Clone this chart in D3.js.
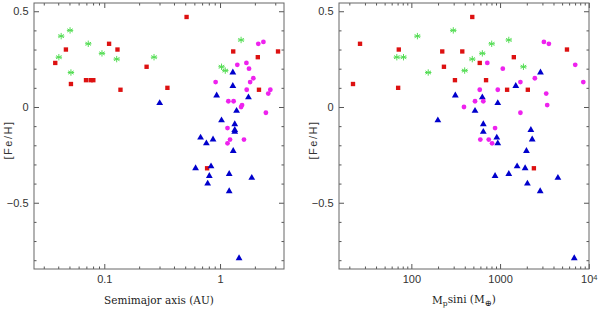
<!DOCTYPE html>
<html>
<head>
<meta charset="utf-8">
<script src="https://cdn.jsdelivr.net/npm/d3@7"></script>
<style>
    body { margin: 0; background: #fff; }
    .tick text { font-family: "Liberation Sans", Arial, sans-serif; font-size: 11px; fill: #333; }
    .tick line { stroke: #555; }
    .frame { fill: none; stroke: #666; stroke-width: 1; }
    .axis-title { font-family: "DejaVu Serif", serif; font-size: 10.5px; fill: #222; }
    .feh-title { font-family: "Liberation Sans", Arial, sans-serif; font-size: 11px; fill: #333; letter-spacing: 1.5px; }
</style>
</head>
<body>
<div id="chart"></div>
<script>
// left panel: [semimajor axis (AU), [Fe/H]]
const semiStars = [[0.0424, 0.37], [0.0506, 0.40], [0.0405, 0.26], [0.0515, 0.18], [0.0727, 0.33], [0.0955, 0.28],
    [0.128, 0.25], [0.269, 0.26], [1.52, 0.35], [1.03, 0.21], [1.11, 0.19]];
const semiSquares = [[0.0377, 0.23], [0.0466, 0.30], [0.0515, 0.12], [0.0695, 0.14], [0.0762, 0.14], [0.0804, 0.14],
    [0.110, 0.33], [0.130, 0.30], [0.138, 0.09], [0.232, 0.21], [0.351, 0.10], [0.514, 0.47], [1.30, 0.29],
    [2.12, 0.26], [2.17, 0.09], [3.17, 0.29], [0.773, -0.32]];
const semiTriangles = [[0.301, 0.02], [1.29, 0.18], [1.29, 0.11], [0.935, 0.06], [1.76, 0.05], [1.39, -0.02],
    [1.03, -0.07], [1.34, -0.09], [1.34, -0.12], [1.34, -0.13], [0.679, -0.16], [0.762, -0.19], [0.87, -0.17],
    [1.30, -0.23], [0.615, -0.32], [0.836, -0.31], [0.808, -0.36], [1.20, -0.35], [1.88, -0.37], [0.782, -0.40],
    [1.20, -0.44], [1.46, -0.79]];
const semiCircles = [[2.14, 0.33], [2.37, 0.34], [1.41, 0.22], [1.69, 0.23], [1.78, 0.20], [0.916, 0.13],
    [1.94, 0.15], [1.82, 0.13], [1.70, 0.09], [2.72, 0.09], [2.61, 0.07], [1.18, 0.03], [1.31, 0.03], [1.55, 0.01],
    [1.52, 0.00], [2.49, -0.03], [1.16, -0.11], [1.22, -0.17], [1.16, -0.19], [1.61, -0.17]];

// right panel: [Mp sini (Earth masses), [Fe/H]]
const massStars = [[117, 0.37], [297, 0.40], [68.6, 0.26], [81.6, 0.26], [155, 0.18], [805, 0.33], [1254, 0.35],
    [486, 0.25], [631, 0.28], [399, 0.19], [1834, 0.21]];
const massSquares = [[26.4, 0.33], [22.0, 0.12], [72.2, 0.30], [71.0, 0.10], [223, 0.29], [233, 0.21], [310, 0.14],
    [486, 0.47], [375, 0.29], [590, 0.23], [695, 0.14], [1429, 0.26], [1200, 0.09], [2055, 0.09], [5675, 0.30],
    [2405, -0.32]];
const massTriangles = [[199, -0.07], [313, 0.06], [631, 0.05], [522, -0.02], [942, 0.02], [1503, 0.11],
    [2853, 0.18], [647, -0.09], [647, -0.13], [918, -0.16], [942, -0.19], [2223, -0.12], [2301, -0.17],
    [1982, -0.23], [1556, -0.31], [1915, -0.32], [878, -0.36], [1254, -0.35], [2032, -0.40], [2832, -0.44],
    [4487, -0.37], [6855, -0.79]];
const massCircles = [[3118, 0.34], [3548, 0.33], [7031, 0.22], [8664, 0.13], [1073, 0.20], [718, 0.23],
    [1695, 0.13], [2466, 0.15], [590, 0.09], [942, 0.09], [3311, 0.07], [3397, 0.01], [522, 0.03], [647, 0.03],
    [392, 0.00], [1695, -0.03], [878, -0.11], [599, -0.17], [745, -0.17], [812, -0.19]];

const fehDomain = [-0.846, 0.543];
const fehMajor = [-0.5, 0, 0.5];
const fehMinor = [-0.8, -0.7, -0.6, -0.4, -0.3, -0.2, -0.1, 0.1, 0.2, 0.3, 0.4];

const semiDomain = [0.0247, 3.57];
const massDomain = [15.3, 10050];


class ScatterPanel {
    constructor(svg, left, xDomain, xTitle) {
        this.svg = svg;
        this.left = left;
        this.top = 3;
        this.width = 250;
        this.height = 266;
        this.xDomain = xDomain;
        this.xTitle = xTitle;

        this.g = null;
        this.x = null;
        this.y = null;
    }

    init() {
        this.g = this.svg.append("g")
            .attr("transform", "translate(" + this.left + "," + this.top + ")");

        this.x = d3.scaleLog()
            .domain(this.xDomain)
            .range([0, this.width]);

        this.y = d3.scaleLinear()
            .domain(fehDomain)
            .range([this.height, 0]);

        let all = this.x.ticks();
        let major = all.filter(v => Math.abs(Math.log10(v) - Math.round(Math.log10(v))) < 1e-6);
        let minor = all.filter(v => major.indexOf(v) < 0);

        // minor + major ticks, all pointing inward
        this.addAxis(d3.axisBottom(this.x).tickValues(minor).tickSize(-2.5).tickFormat(""), this.height);
        this.addAxis(d3.axisTop(this.x).tickValues(minor).tickSize(-2.5).tickFormat(""), 0);
        this.addAxis(d3.axisTop(this.x).tickValues(major).tickSize(-5).tickFormat(""), 0);
        let xa = this.addAxis(d3.axisBottom(this.x).tickValues(major).tickSize(-5).tickPadding(6.5)
            .tickFormat(d => d >= 10000 ? "10" : d3.format("~g")(d)), this.height);
        xa.selectAll(".tick text").filter(d => d >= 10000)
            .append("tspan").attr("dy", "-0.45em").attr("font-size", "7.5px").text("4");

        this.addAxisY(d3.axisLeft(this.y).tickValues(fehMinor).tickSize(-2.5).tickFormat(""), 0);
        this.addAxisY(d3.axisRight(this.y).tickValues(fehMinor).tickSize(-2.5).tickFormat(""), this.width);
        this.addAxisY(d3.axisRight(this.y).tickValues(fehMajor).tickSize(-5).tickFormat(""), this.width);
        this.addAxisY(d3.axisLeft(this.y).tickValues(fehMajor).tickSize(-5).tickPadding(5.5)
            .tickFormat(d => d3.format("~g")(d).replace("-", "\u2212")), 0);

        this.g.append("rect")
            .attr("class", "frame")
            .attr("width", this.width)
            .attr("height", this.height);

        // axis titles
        let xt = this.g.append("text")
            .attr("class", "axis-title")
            .attr("x", this.width / 2)
            .attr("y", this.height + 35)
            .style("text-anchor", "middle");
        this.xTitle(xt);

        this.g.append("text")
            .attr("class", "feh-title")
            .attr("transform", "rotate(-90)")
            .attr("x", -137)
            .attr("y", -22)
            .style("text-anchor", "middle")
            .text("[Fe/H]");
    }

    addAxis(axis, y) {
        let a = this.g.append("g").attr("transform", "translate(0," + y + ")").call(axis);
        a.select(".domain").remove();
        return a;
    }

    addAxisY(axis, x) {
        let a = this.g.append("g").attr("transform", "translate(" + x + ",0)").call(axis);
        a.select(".domain").remove();
        return a;
    }

    drawStars(data) {
        let r = 3.2;
        let arms = [0, 60, 120].map(deg => {
            let t = deg * Math.PI / 180;
            return "M" + (-r * Math.sin(t)) + "," + (-r * Math.cos(t)) + "L" + (r * Math.sin(t)) + "," + (r * Math.cos(t));
        }).join("") + "M" + (-r) + ",0L" + r + ",0";
        this.g.selectAll(".star")
            .data(data)
            .enter()
            .append("path")
            .attr("class", "star")
            .attr("transform", d => `translate(${this.x(d[0])},${this.y(d[1])})`)
            .attr("d", arms)
            .attr("fill", "none")
            .attr("stroke", "#55dd55")
            .attr("stroke-width", 1);
    }

    drawSymbols(data, cls, type, size, color) {
        this.g.selectAll("." + cls)
            .data(data)
            .enter()
            .append("path")
            .attr("class", cls)
            .attr("transform", d => `translate(${this.x(d[0])},${this.y(d[1])})`)
            .attr("d", d3.symbol().type(type).size(size))
            .attr("fill", color);
    }
}

const svg = d3.select("#chart")
    .append("svg")
    .attr("width", 600)
    .attr("height", 311);

let leftPanel = new ScatterPanel(svg, 34, semiDomain, t => t.text("Semimajor axis (AU)"));
leftPanel.init();
leftPanel.drawStars(semiStars);
leftPanel.drawSymbols(semiSquares, "sq", d3.symbolSquare, 19, "#dd1111");
leftPanel.drawSymbols(semiTriangles, "tri", d3.symbolTriangle, 20, "#0000cc");
leftPanel.drawSymbols(semiCircles, "dot", d3.symbolCircle, 18, "#ee22ee");

let rightPanel = new ScatterPanel(svg, 339, massDomain, t => {
    t.append("tspan").text("M");
    t.append("tspan").attr("dy", "0.3em").attr("font-size", "7.5px").text("p");
    t.append("tspan").attr("dy", "-0.3em").text("sini (M");
    t.append("tspan").attr("dy", "0.3em").attr("font-size", "8.5px").text("\u2295");
    t.append("tspan").attr("dy", "-0.3em").text(")");
});
rightPanel.init();
rightPanel.drawStars(massStars);
rightPanel.drawSymbols(massSquares, "sq", d3.symbolSquare, 19, "#dd1111");
rightPanel.drawSymbols(massTriangles, "tri", d3.symbolTriangle, 20, "#0000cc");
rightPanel.drawSymbols(massCircles, "dot", d3.symbolCircle, 18, "#ee22ee");
</script>
</body>
</html>
